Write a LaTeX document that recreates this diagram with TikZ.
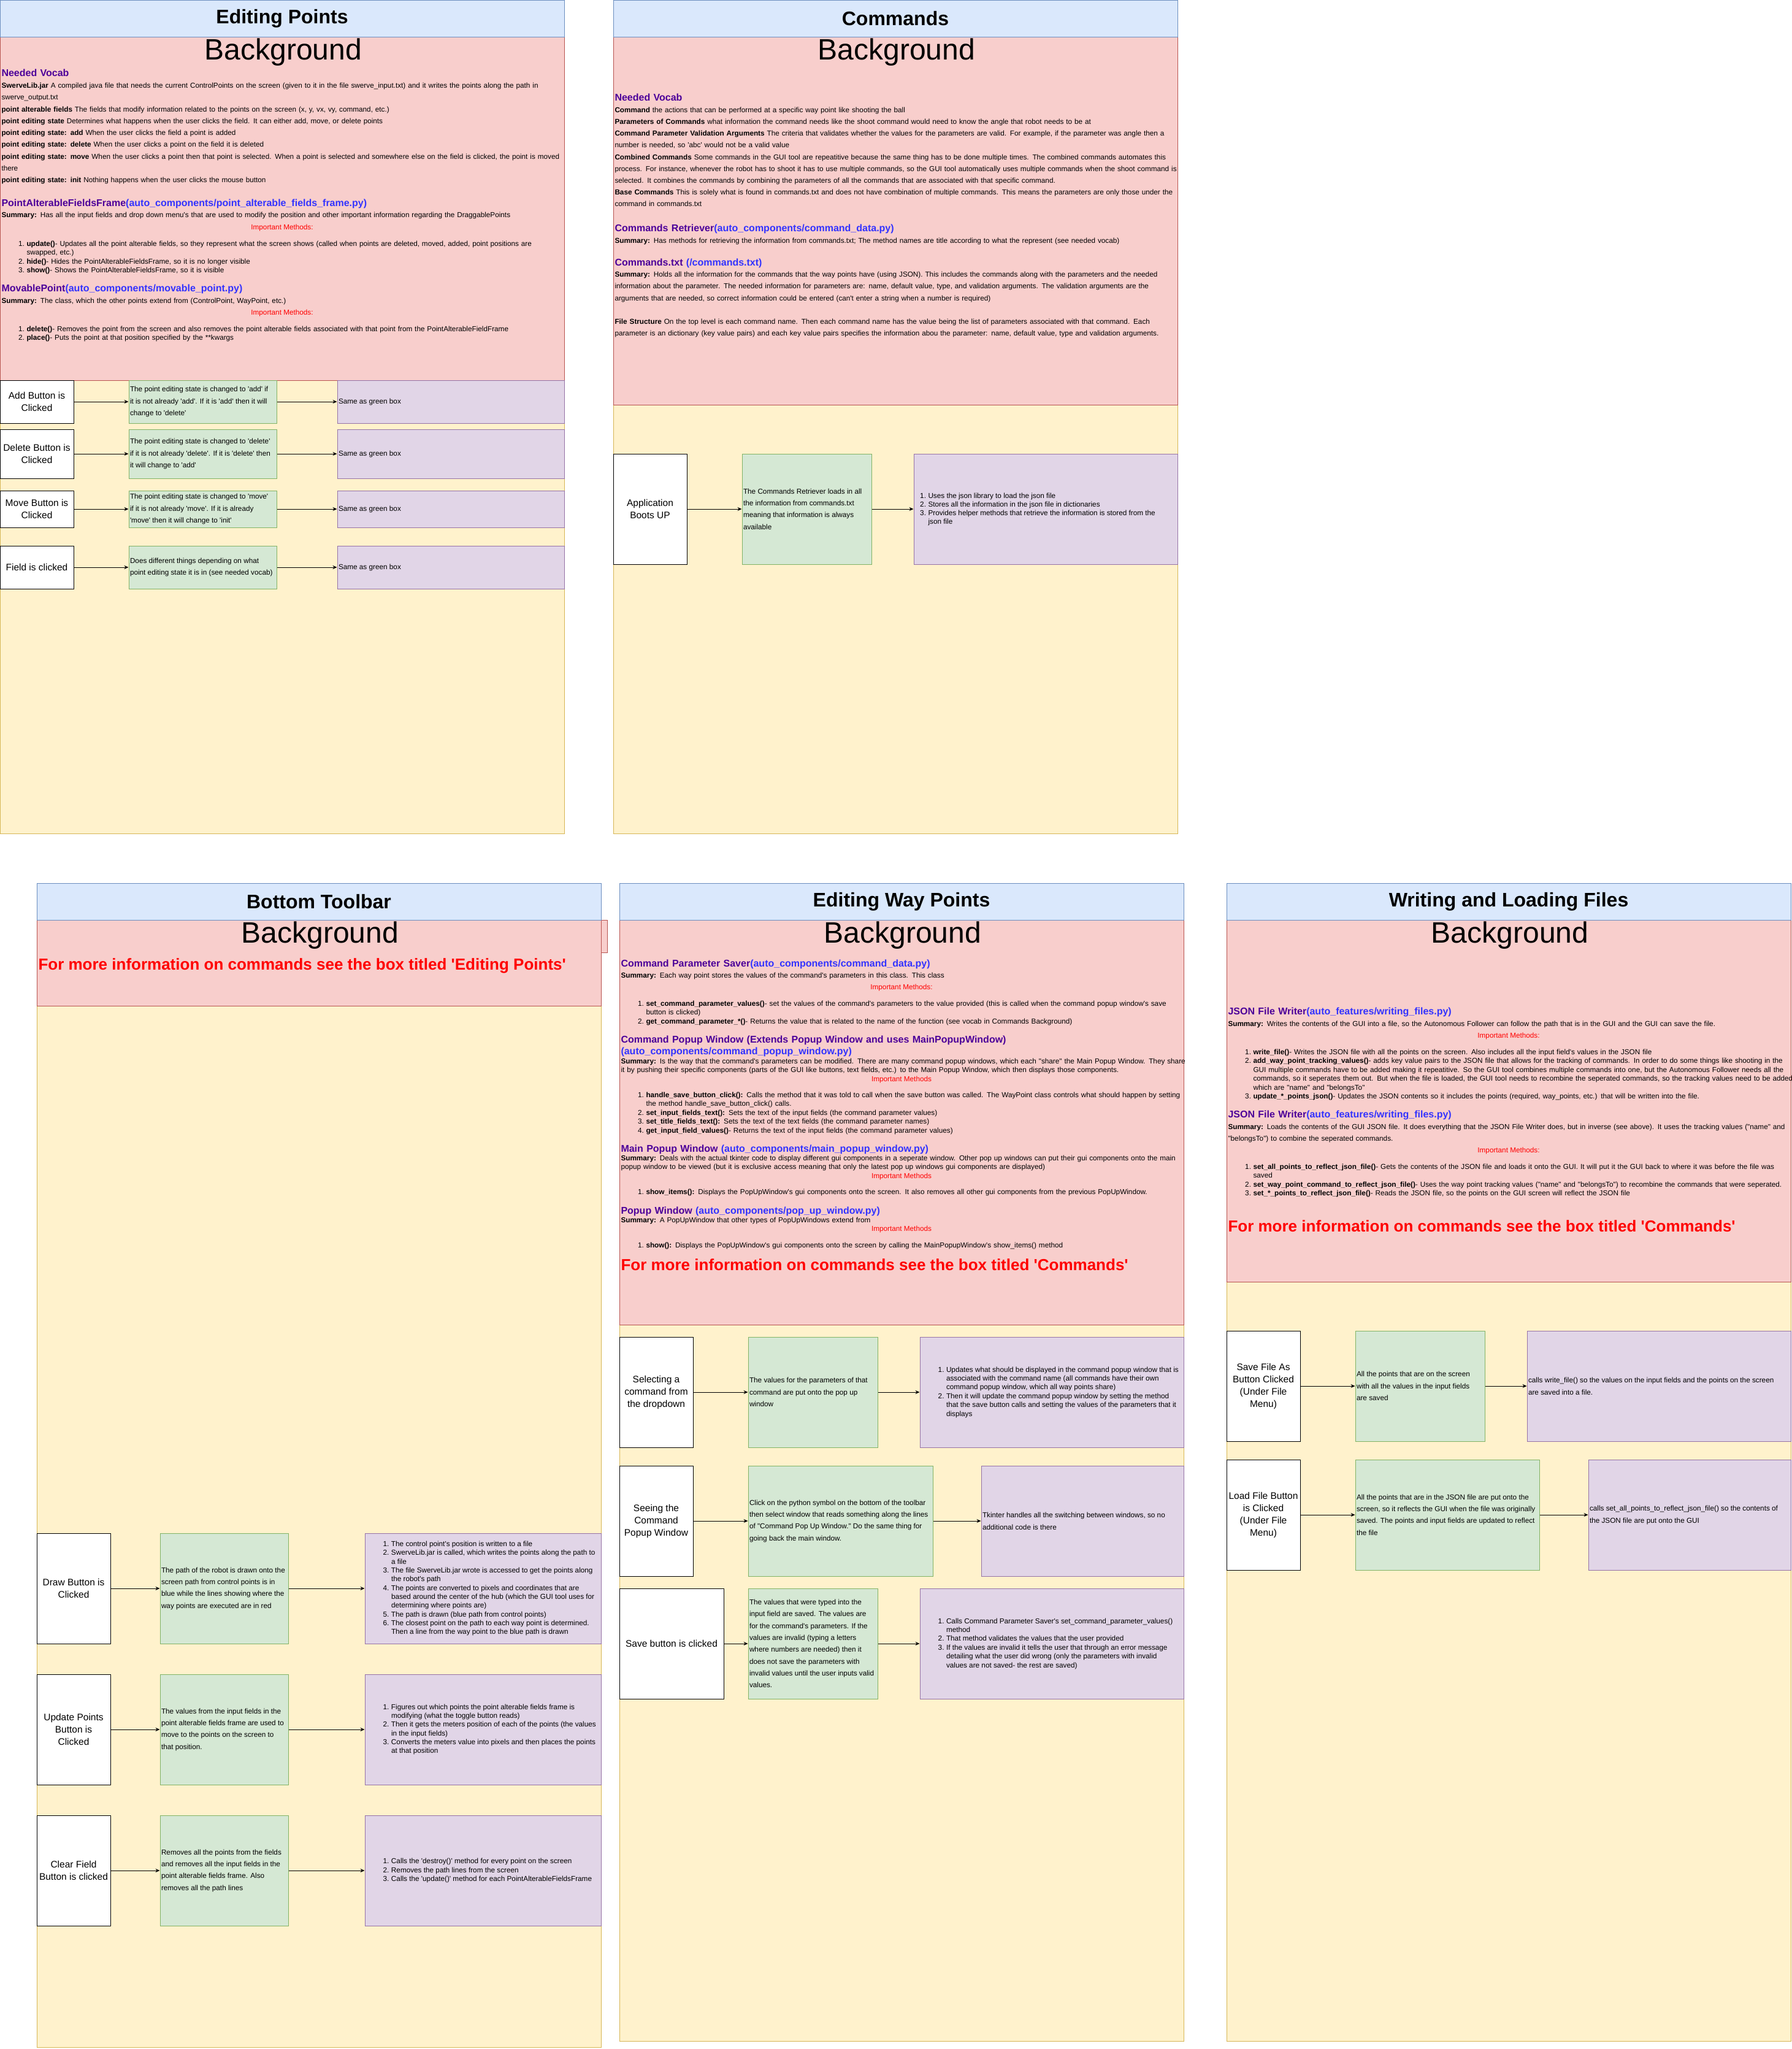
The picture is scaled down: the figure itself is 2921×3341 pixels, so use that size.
\documentclass[tikz,border=0pt]{standalone}
\usepackage{fontspec}
\newfontfamily\gui{Liberation Sans}
\usetikzlibrary{arrows.meta}

\definecolor{hdrfill}{HTML}{DAE8FC}
\definecolor{hdrline}{HTML}{6C8EBF}
\definecolor{yelfill}{HTML}{FFF2CC}
\definecolor{yelline}{HTML}{D6B656}
\definecolor{pinkfill}{HTML}{F8CECC}
\definecolor{pinkline}{HTML}{B85450}
\definecolor{grnfill}{HTML}{D5E8D4}
\definecolor{grnline}{HTML}{82B366}
\definecolor{prpfill}{HTML}{E1D5E7}
\definecolor{prpline}{HTML}{9673A6}
\definecolor{headpurp}{HTML}{4C0099}
\definecolor{headblue}{HTML}{3333FF}
\definecolor{warnred}{HTML}{FF0000}

\newcommand\hdp[1]{\textcolor{headpurp}{#1}}
\newcommand\hdb[1]{\textcolor{headblue}{#1}}
% numbered list helpers: number column and continuation indent
\newcommand\numi[1]{\makebox[37.5pt][r]{#1}\hspace{3.5pt}}
\newcommand\contl{\hspace*{41pt}}
\newcommand\nums[1]{\makebox[18pt][r]{#1}\hspace{3.5pt}}
\newcommand\conts{\hspace*{21.5pt}}
% empty box by its corners: name, style, x1, y1, x2, y2 (y grows downwards)
\newcommand\boxat[6]{\node[#2, minimum width={#5-#3}, minimum height={#6-#4}] (#1) at ({(#3+#5)/2},{(#4+#6)/2}) {};}

\begin{document}
\begin{tikzpicture}[x=1pt, y=-1pt, line width=1pt,
  hdr/.style={draw=hdrline, fill=hdrfill},
  lane/.style={draw=yelline, fill=yelfill},
  bg/.style={draw=pinkline, fill=pinkfill},
  wbox/.style={draw=black, fill=white, inner sep=0pt},
  gbox/.style={draw=grnline, fill=grnfill, inner sep=0pt},
  pbox/.style={draw=prpline, fill=prpfill, inner sep=0pt},
  ttl/.style={inner sep=0pt, font=\gui\bfseries\fontsize{32}{36}\selectfont},
  bgt/.style={inner sep=0pt, font=\gui\fontsize{48}{54}\selectfont},
  hd/.style={inner sep=0pt, anchor=base west, align=left, text width=1300pt, font=\gui\bfseries\fontsize{16}{19}\selectfont},
  blk/.style={inner sep=0pt, anchor=base west, align=left, text width=1300pt, font=\gui\fontsize{11.75}{#1}\selectfont},
  blk/.default=14.4,
  imp/.style={inner sep=0pt, anchor=base, text=warnred, font=\gui\fontsize{11.75}{14}\selectfont},
  big/.style={inner sep=0pt, anchor=base west, text=warnred, font=\gui\bfseries\fontsize{26}{30}\selectfont},
  ctxt/.style={inner sep=0pt, align=center, font=\gui\fontsize{15.5}{20}\selectfont},
  ltxt/.style={inner sep=0pt, anchor=west, align=left, font=\gui\fontsize{11.75}{#1}\selectfont},
  ltxt/.default=19.3,
  arr/.style={-{Stealth[length=7pt,width=6pt]}, line width=1pt}
]
\useasboundingbox (0,0) rectangle (2921,3341);

% ================= Editing Points =================
\draw[lane] (0,60) rectangle (920,1359);
\draw[bg] (0,60) rectangle (920,620);
\draw[hdr] (0,0) rectangle (920,60);
\node[ttl] (t1) at (460,30) {Editing Points};
\node[bgt] (bg1) at (462,85) {Background};

\node[hd] (ep-h0) at (2,124.5) {\hdp{Needed Vocab}};
\node[blk=19.25] (ep-voc) at (2,143.5) {\textbf{SwerveLib.jar} A compiled java file that needs the current ControlPoints on the screen (given to it in the file swerve\_input.txt) and it writes the points along the path in\\
swerve\_output.txt\\
\textbf{point alterable fields} The fields that modify information related to the points on the screen (x, y, vx, vy, command, etc.)\\
\textbf{point editing state} Determines what happens when the user clicks the field. It can either add, move, or delete points\\
\textbf{point editing state: add} When the user clicks the field a point is added\\
\textbf{point editing state: delete} When the user clicks a point on the field it is deleted\\
\textbf{point editing state: move} When the user clicks a point then that point is selected. When a point is selected and somewhere else on the field is clicked, the point is moved\\
there\\
\textbf{point editing state: init} Nothing happens when the user clicks the mouse button};

\node[hd] (ep-h1) at (2,336.5) {\hdp{PointAlterableFieldsFrame}\hdb{(auto\_components/point\_alterable\_fields\_frame.py)}};
\node[blk] (ep-s1) at (2,354.5) {\textbf{Summary:} Has all the input fields and drop down menu's that are used to modify the position and other important information regarding the DraggablePoints};
\node[imp] (ep-i1) at (460,374.5) {Important Methods:};
\node[blk] (ep-l1) at (2,401.5) {\numi{1.}\textbf{update()}- Updates all the point alterable fields, so they represent what the screen shows (called when points are deleted, moved, added, point positions are\\
\contl swapped, etc.)\\
\numi{2.}\textbf{hide()}- Hides the PointAlterableFieldsFrame, so it is no longer visible\\
\numi{3.}\textbf{show()}- Shows the PointAlterableFieldsFrame, so it is visible};

\node[hd] (ep-h2) at (2,475.5) {\hdp{MovablePoint}\hdb{(auto\_components/movable\_point.py)}};
\node[blk] (ep-s2) at (2,494.5) {\textbf{Summary:} The class, which the other points extend from (ControlPoint, WayPoint, etc.)};
\node[imp] (ep-i2) at (460,513.5) {Important Methods:};
\node[blk] (ep-l2) at (2,540.5) {\numi{1.}\textbf{delete()}- Removes the point from the screen and also removes the point alterable fields associated with that point from the PointAlterableFieldFrame\\
\numi{2.}\textbf{place()}- Puts the point at that position specified by the **kwargs};

\boxat{ep-w1}{wbox}{0}{620}{120}{690}
\boxat{ep-g1}{gbox}{210}{620}{451}{690}
\boxat{ep-p1}{pbox}{550}{620}{920}{690}
\boxat{ep-w2}{wbox}{0}{700}{120}{780}
\boxat{ep-g2}{gbox}{210}{700}{451}{780}
\boxat{ep-p2}{pbox}{550}{700}{920}{780}
\boxat{ep-w3}{wbox}{0}{800}{120}{860}
\boxat{ep-g3}{gbox}{210}{800}{451}{860}
\boxat{ep-p3}{pbox}{550}{800}{920}{860}
\boxat{ep-w4}{wbox}{0}{890}{120}{960}
\boxat{ep-g4}{gbox}{210}{890}{451}{960}
\boxat{ep-p4}{pbox}{550}{890}{920}{960}
\foreach \r in {1,2,3,4} {
  \draw[arr] (ep-w\r) -- (ep-g\r);
  \draw[arr] (ep-g\r) -- (ep-p\r);
}
\node[ctxt] (ep-w1t) at (ep-w1) {Add Button is\\Clicked};
\node[ctxt] (ep-w2t) at (ep-w2) {Delete Button is\\Clicked};
\node[ctxt] (ep-w3t) at (ep-w3) {Move Button is\\Clicked};
\node[ctxt] (ep-w4t) at (ep-w4) {Field is clicked};
\node[ltxt] (ep-g1t) at ([xshift=2pt]ep-g1.west) {The point editing state is changed to 'add' if\\it is not already 'add'. If it is 'add' then it will\\change to 'delete'};
\node[ltxt] (ep-g2t) at ([xshift=2pt]ep-g2.west) {The point editing state is changed to 'delete'\\if it is not already 'delete'. If it is 'delete' then\\it will change to 'add'};
\node[ltxt] (ep-g3t) at ([xshift=2pt]ep-g3.west) {The point editing state is changed to 'move'\\if it is not already 'move'. If it is already\\'move' then it will change to 'init'};
\node[ltxt] (ep-g4t) at ([xshift=2pt]ep-g4.west) {Does different things depending on what\\point editing state it is in (see needed vocab)};
\foreach \r in {1,2,3,4} {
  \node[ltxt] (ep-p\r t) at ([xshift=2pt]ep-p\r.west) {Same as green box};
}

% ================= Commands =================
\draw[lane] (1000,60) rectangle (1920,1359);
\draw[bg] (1000,60) rectangle (1920,660);
\draw[hdr] (1000,0) rectangle (1920,60);
\node[ttl] (t2) at (1460,30) {Commands};
\node[bgt] (bg2) at (1462,85) {Background};

\node[hd] (cm-h0) at (1002,164.5) {\hdp{Needed Vocab}};
\node[blk=19.15] (cm-voc) at (1002,183.5) {\textbf{Command} the actions that can be performed at a specific way point like shooting the ball\\
\textbf{Parameters of Commands} what information the command needs like the shoot command would need to know the angle that robot needs to be at\\
\textbf{Command Parameter Validation Arguments} The criteria that validates whether the values for the parameters are valid. For example, if the parameter was angle then a\\
number is needed, so 'abc' would not be a valid value\\
\textbf{Combined Commands} Some commands in the GUI tool are repeatitive because the same thing has to be done multiple times. The combined commands automates this\\
process. For instance, whenever the robot has to shoot it has to use multiple commands, so the GUI tool automatically uses multiple commands when the shoot command is\\
selected. It combines the commands by combining the parameters of all the commands that are associated with that specific command.\\
\textbf{Base Commands} This is solely what is found in commands.txt and does not have combination of multiple commands. This means the parameters are only those under the\\
command in commands.txt};
\node[hd] (cm-h1) at (1002,377.5) {\hdp{Commands Retriever}\hdb{(auto\_components/command\_data.py)}};
\node[blk] (cm-s1) at (1002,396.5) {\textbf{Summary:} Has methods for retrieving the information from commands.txt; The method names are title according to what the represent (see needed vocab)};
\node[hd] (cm-h2) at (1002,433.5) {\hdp{Commands.txt }\hdb{(/commands.txt)}};
\node[blk=19.3] (cm-s2) at (1002,451.5) {\textbf{Summary:} Holds all the information for the commands that the way points have (using JSON). This includes the commands along with the parameters and the needed\\
information about the parameter. The needed information for parameters are: name, default value, type, and validation arguments. The validation arguments are the\\
arguments that are needed, so correct information could be entered (can't enter a string when a number is required)};
\node[blk=19.3] (cm-s3) at (1002,528.5) {\textbf{File Structure} On the top level is each command name. Then each command name has the value being the list of parameters associated with that command. Each\\
parameter is an dictionary (key value pairs) and each key value pairs specifies the information abou the parameter: name, default value, type and validation arguments.};

\boxat{cm-w1}{wbox}{1000}{740}{1120}{920}
\boxat{cm-g1}{gbox}{1210}{740}{1421}{920}
\boxat{cm-p1}{pbox}{1490}{740}{1920}{920}
\draw[arr] (cm-w1) -- (cm-g1);
\draw[arr] (cm-g1) -- (cm-p1);
\node[ctxt] (cm-w1t) at (cm-w1) {Application\\Boots UP};
\node[ltxt] (cm-g1t) at ([xshift=2pt]cm-g1.west) {The Commands Retriever loads in all\\the information from commands.txt\\meaning that information is always\\available};
\node[ltxt=14] (cm-p1t) at ([xshift=2pt]cm-p1.west) {\nums{1.}Uses the json library to load the json file\\
\nums{2.}Stores all the information in the json file in dictionaries\\
\nums{3.}Provides helper methods that retrieve the information is stored from the\\
\conts json file};

% ================= Bottom Toolbar =================
\draw[lane] (60,1500) rectangle (980,3338);
\draw[bg] (60,1500) rectangle (990,1553);
\draw[bg] (60,1500) rectangle (980,1640);
\draw[hdr] (60,1440) rectangle (980,1500);
\node[ttl] (t3) at (520,1470) {Bottom Toolbar};
\node[bgt] (bg3) at (522,1525) {Background};
\node[big] (bt-more) at (62,1581) {For more information on commands see the box titled 'Editing Points'};

\boxat{bt-w1}{wbox}{60}{2500}{180}{2680}
\boxat{bt-g1}{gbox}{261}{2500}{470}{2680}
\boxat{bt-p1}{pbox}{595}{2500}{980}{2680}
\boxat{bt-w2}{wbox}{60}{2730}{180}{2910}
\boxat{bt-g2}{gbox}{261}{2730}{470}{2910}
\boxat{bt-p2}{pbox}{595}{2730}{980}{2910}
\boxat{bt-w3}{wbox}{60}{2960}{180}{3140}
\boxat{bt-g3}{gbox}{261}{2960}{470}{3140}
\boxat{bt-p3}{pbox}{595}{2960}{980}{3140}
\foreach \r in {1,2,3} {
  \draw[arr] (bt-w\r) -- (bt-g\r);
  \draw[arr] (bt-g\r) -- (bt-p\r);
}
\node[ctxt] (bt-w1t) at (bt-w1) {Draw Button is\\Clicked};
\node[ctxt] (bt-w2t) at (bt-w2) {Update Points\\Button is\\Clicked};
\node[ctxt] (bt-w3t) at (bt-w3) {Clear Field\\Button is clicked};
\node[ltxt] (bt-g1t) at ([xshift=2pt]bt-g1.west) {The path of the robot is drawn onto the\\screen path from control points is in\\blue while the lines showing where the\\way points are executed are in red};
\node[ltxt] (bt-g2t) at ([xshift=2pt]bt-g2.west) {The values from the input fields in the\\point alterable fields frame are used to\\move to the points on the screen to\\that position.};
\node[ltxt] (bt-g3t) at ([xshift=2pt]bt-g3.west) {Removes all the points from the fields\\and removes all the input fields in the\\point alterable fields frame. Also\\removes all the path lines};
\node[ltxt=14.35] (bt-p1t) at ([xshift=2pt]bt-p1.west) {\numi{1.}The control point's position is written to a file\\
\numi{2.}SwerveLib.jar is called, which writes the points along the path to\\
\contl a file\\
\numi{3.}The file SwerveLib.jar wrote is accessed to get the points along\\
\contl the robot's path\\
\numi{4.}The points are converted to pixels and coordinates that are\\
\contl based around the center of the hub (which the GUI tool uses for\\
\contl determining where points are)\\
\numi{5.}The path is drawn (blue path from control points)\\
\numi{6.}The closest point on the path to each way point is determined.\\
\contl Then a line from the way point to the blue path is drawn};
\node[ltxt=14.35] (bt-p2t) at ([xshift=2pt]bt-p2.west) {\numi{1.}Figures out which points the point alterable fields frame is\\
\contl modifying (what the toggle button reads)\\
\numi{2.}Then it gets the meters position of each of the points (the values\\
\contl in the input fields)\\
\numi{3.}Converts the meters value into pixels and then places the points\\
\contl at that position};
\node[ltxt=14.35] (bt-p3t) at ([xshift=2pt]bt-p3.west) {\numi{1.}Calls the 'destroy()' method for every point on the screen\\
\numi{2.}Removes the path lines from the screen\\
\numi{3.}Calls the 'update()' method for each PointAlterableFieldsFrame};

% ================= Editing Way Points =================
\draw[lane] (1010,1500) rectangle (1930,3328);
\draw[bg] (1010,1500) rectangle (1930,2160);
\draw[hdr] (1010,1440) rectangle (1930,1500);
\node[ttl] (t4) at (1470,1470) {Editing Way Points};
\node[bgt] (bg4) at (1472,1525) {Background};

\node[hd] (wp-h1) at (1012,1576.5) {\hdp{Command Parameter Saver}\hdb{(auto\_components/command\_data.py)}};
\node[blk] (wp-s1) at (1012,1594.5) {\textbf{Summary:} Each way point stores the values of the command's parameters in this class. This class};
\node[imp] (wp-i1) at (1470,1613.5) {Important Methods:};
\node[blk] (wp-l1) at (1012,1640.5) {\numi{1.}\textbf{set\_command\_parameter\_values()}- set the values of the command's parameters to the value provided (this is called when the command popup window's save\\
\contl button is clicked)\\
\numi{2.}\textbf{get\_command\_parameter\_*()}- Returns the value that is related to the name of the function (see vocab in Commands Background)};
\node[hd] (wp-h2) at (1012,1700.5) {\hdp{Command Popup Window (Extends Popup Window and uses MainPopupWindow)}\\\hdb{(auto\_components/command\_popup\_window.py)}};
\node[blk=14] (wp-s2) at (1012,1734.5) {\textbf{Summary:} Is the way that the command's parameters can be modified. There are many command popup windows, which each "share" the Main Popup Window. They share\\
it by pushing their specific components (parts of the GUI like buttons, text fields, etc.) to the Main Popup Window, which then displays those components.};
\node[imp] (wp-i2) at (1470,1763.5) {Important Methods};
\node[blk] (wp-l2) at (1012,1789.5) {\numi{1.}\textbf{handle\_save\_button\_click():} Calls the method that it was told to call when the save button was called. The WayPoint class controls what should happen by setting\\
\contl the method handle\_save\_button\_click() calls.\\
\numi{2.}\textbf{set\_input\_fields\_text():} Sets the text of the input fields (the command parameter values)\\
\numi{3.}\textbf{set\_title\_fields\_text():} Sets the text of the text fields (the command parameter names)\\
\numi{4.}\textbf{get\_input\_field\_values()}- Returns the text of the input fields (the command parameter values)};
\node[hd] (wp-h3) at (1012,1878.5) {\hdp{Main Popup Window }\hdb{(auto\_components/main\_popup\_window.py)}};
\node[blk=14] (wp-s3) at (1012,1892.5) {\textbf{Summary:} Deals with the actual tkinter code to display different gui components in a seperate window. Other pop up windows can put their gui components onto the main\\
popup window to be viewed (but it is exclusive access meaning that only the latest pop up windows gui components are displayed)};
\node[imp] (wp-i3) at (1470,1921.5) {Important Methods};
\node[blk] (wp-l3) at (1012,1947.5) {\numi{1.}\textbf{show\_items():} Displays the PopUpWindow's gui components onto the screen. It also removes all other gui components from the previous PopUpWindow.};
\node[hd] (wp-h4) at (1012,1979.5) {\hdp{Popup Window }\hdb{(auto\_components/pop\_up\_window.py)}};
\node[blk] (wp-s4) at (1012,1993.5) {\textbf{Summary:} A PopUpWindow that other types of PopUpWindows extend from};
\node[imp] (wp-i4) at (1470,2007.5) {Important Methods};
\node[blk] (wp-l4) at (1012,2034.5) {\numi{1.}\textbf{show():} Displays the PopUpWindow's gui components onto the screen by calling the MainPopupWindow's show\_items() method};
\node[big] (wp-more) at (1012,2071) {For more information on commands see the box titled 'Commands'};

\boxat{wp-w1}{wbox}{1010}{2180}{1130}{2360}
\boxat{wp-g1}{gbox}{1220}{2180}{1431}{2360}
\boxat{wp-p1}{pbox}{1500}{2180}{1930}{2360}
\boxat{wp-w2}{wbox}{1010}{2390}{1130}{2570}
\boxat{wp-g2}{gbox}{1220}{2390}{1521}{2570}
\boxat{wp-p2}{pbox}{1600}{2390}{1930}{2570}
\boxat{wp-w3}{wbox}{1010}{2590}{1180}{2770}
\boxat{wp-g3}{gbox}{1220}{2590}{1431}{2770}
\boxat{wp-p3}{pbox}{1500}{2590}{1930}{2770}
\foreach \r in {1,2,3} {
  \draw[arr] (wp-w\r) -- (wp-g\r);
  \draw[arr] (wp-g\r) -- (wp-p\r);
}
\node[ctxt] (wp-w1t) at (wp-w1) {Selecting a\\command from\\the dropdown};
\node[ctxt] (wp-w2t) at (wp-w2) {Seeing the\\Command\\Popup Window};
\node[ctxt] (wp-w3t) at (wp-w3) {Save button is clicked};
\node[ltxt] (wp-g1t) at ([xshift=2pt]wp-g1.west) {The values for the parameters of that\\command are put onto the pop up\\window};
\node[ltxt] (wp-g2t) at ([xshift=2pt]wp-g2.west) {Click on the python symbol on the bottom of the toolbar\\then select window that reads something along the lines\\of "Command Pop Up Window." Do the same thing for\\going back the main window.};
\node[ltxt] (wp-g3t) at ([xshift=2pt]wp-g3.west) {The values that were typed into the\\input field are saved. The values are\\for the command's parameters. If the\\values are invalid (typing a letters\\where numbers are needed) then it\\does not save the parameters with\\invalid values until the user inputs valid\\values.};
\node[ltxt=14.4] (wp-p1t) at ([xshift=2pt]wp-p1.west) {\numi{1.}Updates what should be displayed in the command popup window that is\\
\contl associated with the command name (all commands have their own\\
\contl command popup window, which all way points share)\\
\numi{2.}Then it will update the command popup window by setting the method\\
\contl that the save button calls and setting the values of the parameters that it\\
\contl displays};
\node[ltxt=19.8] (wp-p2t) at ([xshift=2pt]wp-p2.west) {Tkinter handles all the switching between windows, so no\\additional code is there};
\node[ltxt=14.4] (wp-p3t) at ([xshift=2pt]wp-p3.west) {\numi{1.}Calls Command Parameter Saver's set\_command\_parameter\_values()\\
\contl method\\
\numi{2.}That method validates the values that the user provided\\
\numi{3.}If the values are invalid it tells the user that through an error message\\
\contl detailing what the user did wrong (only the parameters with invalid\\
\contl values are not saved- the rest are saved)};

% ================= Writing and Loading Files =================
\draw[lane] (2000,1500) rectangle (2920,3328);
\draw[bg] (2000,1500) rectangle (2920,2090);
\draw[hdr] (2000,1440) rectangle (2920,1500);
\node[ttl] (t5) at (2460,1470) {Writing and Loading Files};
\node[bgt] (bg5) at (2462,1525) {Background};

\node[hd] (wl-h1) at (2002,1654.5) {\hdp{JSON File Writer}\hdb{(auto\_features/writing\_files.py)}};
\node[blk] (wl-s1) at (2002,1673.5) {\textbf{Summary:} Writes the contents of the GUI into a file, so the Autonomous Follower can follow the path that is in the GUI and the GUI can save the file.};
\node[imp] (wl-i1) at (2460,1692.5) {Important Methods:};
\node[blk] (wl-l1) at (2002,1719.5) {\numi{1.}\textbf{write\_file()}- Writes the JSON file with all the points on the screen. Also includes all the input field's values in the JSON file\\
\numi{2.}\textbf{add\_way\_point\_tracking\_values()}- adds key value pairs to the JSON file that allows for the tracking of commands. In order to do some things like shooting in the\\
\contl GUI multiple commands have to be added making it repeatitive. So the GUI tool combines multiple commands into one, but the Autonomous Follower needs all the\\
\contl commands, so it seperates them out. But when the file is loaded, the GUI tool needs to recombine the seperated commands, so the tracking values need to be added\\
\contl which are "name" and "belongsTo"\\
\numi{3.}\textbf{update\_*\_points\_json()}- Updates the JSON contents so it includes the points (required, way\_points, etc.) that will be written into the file.};
\node[hd] (wl-h2) at (2002,1822.5) {\hdp{JSON File Writer}\hdb{(auto\_features/writing\_files.py)}};
\node[blk=19] (wl-s2) at (2002,1841.5) {\textbf{Summary:} Loads the contents of the GUI JSON file. It does everything that the JSON File Writer does, but in inverse (see above). It uses the tracking values ("name" and\\
"belongsTo") to combine the seperated commands.};
\node[imp] (wl-i2) at (2460,1879.5) {Important Methods:};
\node[blk] (wl-l2) at (2002,1906.5) {\numi{1.}\textbf{set\_all\_points\_to\_reflect\_json\_file()}- Gets the contents of the JSON file and loads it onto the GUI. It will put it the GUI back to where it was before the file was\\
\contl saved\\
\numi{2.}\textbf{set\_way\_point\_command\_to\_reflect\_json\_file()}- Uses the way point tracking values ("name" and "belongsTo") to recombine the commands that were seperated.\\
\numi{3.}\textbf{set\_*\_points\_to\_reflect\_json\_file()}- Reads the JSON file, so the points on the GUI screen will reflect the JSON file};
\node[big] (wl-more) at (2002,2008) {For more information on commands see the box titled 'Commands'};

\boxat{wl-w1}{wbox}{2000}{2170}{2120}{2350}
\boxat{wl-g1}{gbox}{2210}{2170}{2421}{2350}
\boxat{wl-p1}{pbox}{2490}{2170}{2920}{2350}
\boxat{wl-w2}{wbox}{2000}{2380}{2120}{2560}
\boxat{wl-g2}{gbox}{2210}{2380}{2510}{2560}
\boxat{wl-p2}{pbox}{2590}{2380}{2920}{2560}
\foreach \r in {1,2} {
  \draw[arr] (wl-w\r) -- (wl-g\r);
  \draw[arr] (wl-g\r) -- (wl-p\r);
}
\node[ctxt] (wl-w1t) at (wl-w1) {Save File As\\Button Clicked\\(Under File\\Menu)};
\node[ctxt] (wl-w2t) at (wl-w2) {Load File Button\\is Clicked\\(Under File\\Menu)};
\node[ltxt] (wl-g1t) at ([xshift=2pt]wl-g1.west) {All the points that are on the screen\\with all the values in the input fields\\are saved};
\node[ltxt] (wl-g2t) at ([xshift=2pt]wl-g2.west) {All the points that are in the JSON file are put onto the\\screen, so it reflects the GUI when the file was originally\\saved. The points and input fields are updated to reflect\\the file};
\node[ltxt=20] (wl-p1t) at ([xshift=2pt]wl-p1.west) {calls write\_file() so the values on the input fields and the points on the screen\\are saved into a file.};
\node[ltxt=20] (wl-p2t) at ([xshift=2pt]wl-p2.west) {calls set\_all\_points\_to\_reflect\_json\_file() so the contents of\\the JSON file are put onto the GUI};
\end{tikzpicture}
\end{document}
